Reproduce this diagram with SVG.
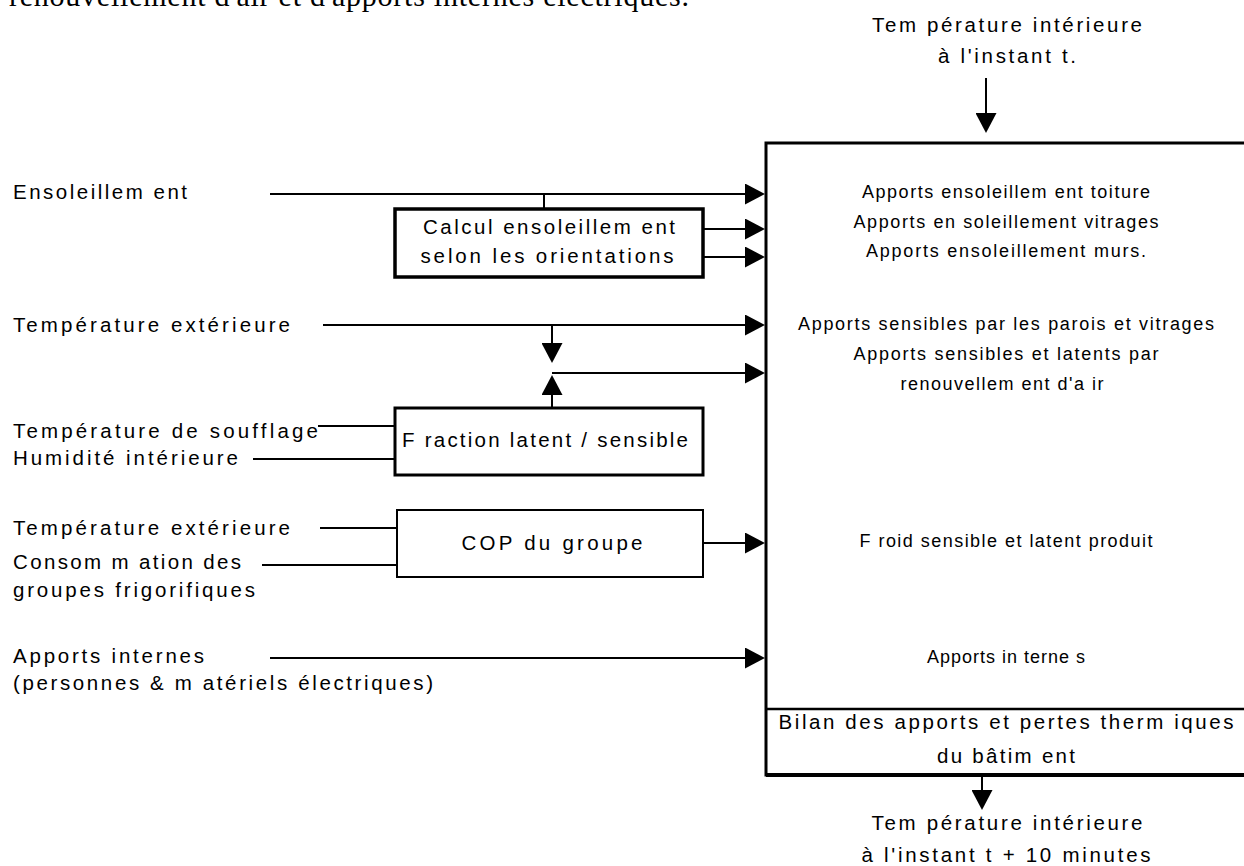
<svg xmlns="http://www.w3.org/2000/svg" width="1244" height="866" viewBox="0 0 1244 866">
<style>
.t{font-family:"Liberation Sans",Arial,sans-serif;font-size:20.5px;fill:#000}
.s{font-size:18px}
.c{text-anchor:middle}
.serif{font-family:"Liberation Serif","Times New Roman",serif;font-size:30px;fill:#000}
.ln{stroke:#000;stroke-width:2;fill:none}
.a{marker-end:url(#ah)}
.box{fill:#fff;stroke:#000}
</style>
<defs>
<marker id="ah" markerUnits="userSpaceOnUse" viewBox="0 0 20 21" markerWidth="20" markerHeight="21" refX="16" refY="10.5" orient="auto">
<path d="M0,0 L20,10.5 L0,21 z" fill="#000"/>
</marker>
</defs>
<rect width="1244" height="866" fill="#fff"/>
<text class="serif" x="9" y="6" textLength="680">renouvellement d'air et d'apports internes électriques.</text>

<g id="connectors">
<line class="ln a" x1="986" y1="78" x2="986" y2="129"/>
<line class="ln a" x1="270" y1="194" x2="761" y2="194"/>
<line class="ln" x1="544" y1="194" x2="544" y2="209"/>
<line class="ln a" x1="703" y1="229" x2="761" y2="229"/>
<line class="ln a" x1="703" y1="257" x2="761" y2="257"/>
<line class="ln a" x1="323" y1="325" x2="761" y2="325"/>
<line class="ln a" x1="552" y1="325" x2="552" y2="359"/>
<line class="ln a" x1="552" y1="408" x2="552" y2="379"/>
<line class="ln a" x1="552" y1="373" x2="761" y2="373"/>
<line class="ln" x1="318" y1="426" x2="395" y2="426"/>
<line class="ln" x1="253" y1="459" x2="395" y2="459"/>
<line class="ln" x1="320" y1="528" x2="397" y2="528"/>
<line class="ln" x1="262" y1="565" x2="397" y2="565"/>
<line class="ln a" x1="703" y1="543" x2="761" y2="543"/>
<line class="ln a" x1="270" y1="658" x2="761" y2="658"/>
<line class="ln a" x1="982" y1="777" x2="982" y2="806"/>
</g>

<g id="input-temp-t">
<text class="t c" x="1007" y="32" textLength="270">Tem pérature intérieure</text>
<text class="t c" x="1007" y="63" textLength="138">à l'instant t.</text>
</g>

<g id="bilan-batiment">
<rect class="box" x="766" y="143" width="480" height="632" stroke-width="3" fill="none"/>
<line x1="766" y1="775" x2="1246" y2="775" stroke="#000" stroke-width="4"/>
<line x1="766" y1="709" x2="1246" y2="709" stroke="#000" stroke-width="2.5"/>
<text class="t s c" x="1006" y="198" textLength="288">Apports ensoleillem ent toiture</text>
<text class="t s c" x="1006" y="228" textLength="305">Apports en soleillement vitrages</text>
<text class="t s c" x="1006" y="257" textLength="280">Apports ensoleillement murs.</text>
<text class="t s c" x="1006" y="330" textLength="416">Apports sensibles par les parois et vitrages</text>
<text class="t s c" x="1006" y="360" textLength="305">Apports sensibles et latents par</text>
<text class="t s c" x="1002" y="390" textLength="203">renouvellem ent d'a ir</text>
<text class="t s c" x="1006" y="547" textLength="293">F roid sensible et latent produit</text>
<text class="t s c" x="1006" y="663" textLength="158">Apports in terne s</text>
<text class="t c" x="1006" y="729" textLength="455">Bilan des apports et pertes therm iques</text>
<text class="t c" x="1006" y="763" textLength="138">du bâtim ent</text>
</g>

<g id="calcul-ensoleillement">
<rect class="box" x="395" y="209" width="308" height="68" stroke-width="3.5"/>
<text class="t c" x="549" y="234" textLength="252">Calcul ensoleillem ent</text>
<text class="t c" x="547" y="263" textLength="253">selon les orientations</text>
</g>

<g id="fraction-latent-sensible">
<rect class="box" x="395" y="408" width="308" height="67" stroke-width="3"/>
<text class="t c" x="545" y="447" textLength="286">F raction latent / sensible</text>
</g>

<g id="cop-groupe">
<rect class="box" x="397" y="510" width="306" height="67" stroke-width="2"/>
<text class="t c" x="552" y="550" textLength="181">COP du groupe</text>
</g>

<g id="in-ensoleillement"><text class="t" x="13" y="199" textLength="174">Ensoleillem ent</text></g>
<g id="in-temp-ext-1"><text class="t" x="13" y="332" textLength="277">Température extérieure</text></g>
<g id="in-soufflage"><text class="t" x="13" y="438" textLength="305">Température de soufflage</text></g>
<g id="in-humidite"><text class="t" x="13" y="465" textLength="225">Humidité intérieure</text></g>
<g id="in-temp-ext-2"><text class="t" x="13" y="535" textLength="277">Température extérieure</text></g>
<g id="in-consommation">
<text class="t" x="13" y="569" textLength="228">Consom m ation des</text>
<text class="t" x="13" y="597" textLength="242">groupes frigorifiques</text>
</g>
<g id="in-apports-internes">
<text class="t" x="13" y="663" textLength="191">Apports internes</text>
<text class="t" x="13" y="690" textLength="420">(personnes &amp; m atériels électriques)</text>
</g>

<g id="output-temp">
<text class="t c" x="1007" y="830" textLength="271">Tem pérature intérieure</text>
<text class="t c" x="1006" y="862" textLength="289">à l'instant t + 10 minutes</text>
</g>
</svg>
